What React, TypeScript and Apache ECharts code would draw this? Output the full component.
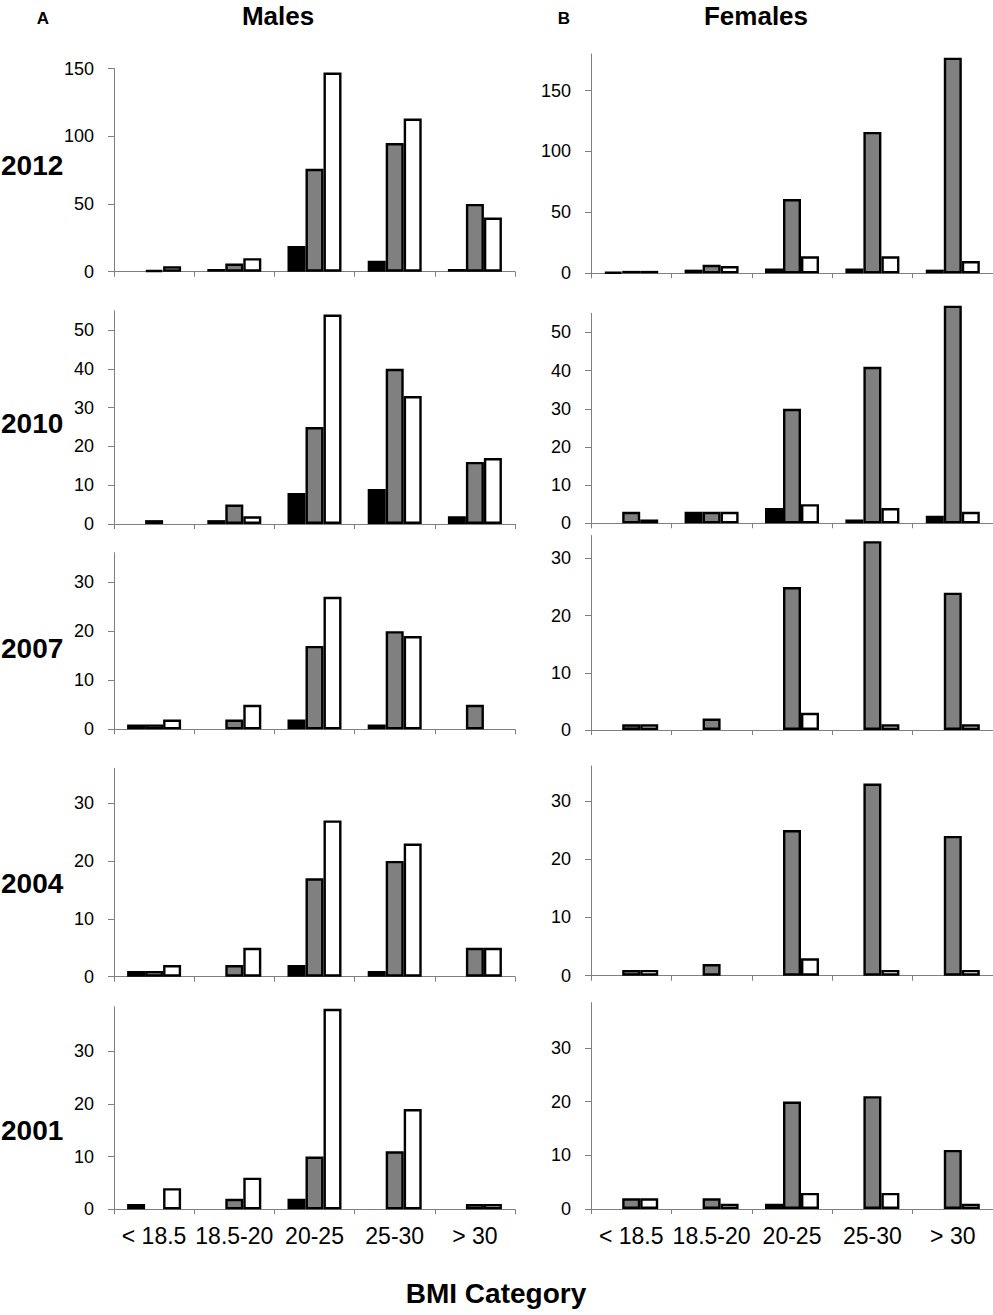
import React, { useEffect, useRef } from "react";
import * as echarts from "echarts";

const CATEGORIES = ["< 18.5", "18.5-20", "20-25", "25-30", "> 30"];
const YEARS = ["2012", "2010", "2007", "2004", "2001"];

// Males
const M2012_BLACK = [0, 2, 19, 8, 2];
const M2012_GRAY = [1, 6, 76, 95, 50];
const M2012_WHITE = [4, 10, 147, 113, 40];
const M2010_BLACK = [0, 1, 8, 9, 2];
const M2010_GRAY = [1, 5, 25, 40, 16];
const M2010_WHITE = [0, 2, 54, 33, 17];
const M2007_BLACK = [1, 0, 2, 1, 0];
const M2007_GRAY = [1, 2, 17, 20, 5];
const M2007_WHITE = [2, 5, 27, 19, 0];
const M2004_BLACK = [1, 0, 2, 1, 0];
const M2004_GRAY = [1, 2, 17, 20, 5];
const M2004_WHITE = [2, 5, 27, 23, 5];
const M2001_BLACK = [1, 0, 2, 0, 0];
const M2001_GRAY = [0, 2, 10, 11, 1];
const M2001_WHITE = [4, 6, 38, 19, 1];

// Females
const F2012_BLACK = [1, 3, 4, 4, 3];
const F2012_GRAY = [2, 7, 61, 116, 177];
const F2012_WHITE = [2, 6, 14, 14, 10];
const F2010_BLACK = [0, 3, 4, 1, 2];
const F2010_GRAY = [3, 3, 30, 41, 57];
const F2010_WHITE = [1, 3, 5, 4, 3];
const F2007_BLACK = [0, 0, 0, 0, 0];
const F2007_GRAY = [1, 2, 25, 33, 24];
const F2007_WHITE = [1, 0, 3, 1, 1];
const F2004_BLACK = [0, 0, 0, 0, 0];
const F2004_GRAY = [1, 2, 25, 33, 24];
const F2004_WHITE = [1, 0, 3, 1, 1];
const F2001_BLACK = [0, 0, 1, 0, 0];
const F2001_GRAY = [2, 2, 20, 21, 11];
const F2001_WHITE = [2, 1, 3, 3, 1];

// Tick labels
const TICKS_150 = [0, 50, 100, 150];
const TICKS_50 = [0, 10, 20, 30, 40, 50];
const TICKS_30 = [0, 10, 20, 30];

const MALE_LEFT = 114;
const MALE_WIDTH = 401;
const FEMALE_LEFT = 591;
const FEMALE_WIDTH = 402;

const PANELS = [
  { col: 0, top: 68.5, zero: 271.7, max: 150, interval: 50, ticks: TICKS_150, data: [M2012_BLACK, M2012_GRAY, M2012_WHITE], bottom: false },
  { col: 1, top: 54, zero: 273.3, max: 180, interval: 50, ticks: TICKS_150, data: [F2012_BLACK, F2012_GRAY, F2012_WHITE], bottom: false },
  { col: 0, top: 310.7, zero: 524, max: 55, interval: 10, ticks: TICKS_50, data: [M2010_BLACK, M2010_GRAY, M2010_WHITE], bottom: false },
  { col: 1, top: 313.3, zero: 523.3, max: 55, interval: 10, ticks: TICKS_50, data: [F2010_BLACK, F2010_GRAY, F2010_WHITE], bottom: false },
  { col: 0, top: 552.7, zero: 729.3, max: 36, interval: 10, ticks: TICKS_30, data: [M2007_BLACK, M2007_GRAY, M2007_WHITE], bottom: false },
  { col: 1, top: 535.5, zero: 730, max: 34, interval: 10, ticks: TICKS_30, data: [F2007_BLACK, F2007_GRAY, F2007_WHITE], bottom: false },
  { col: 0, top: 768.3, zero: 976.7, max: 36, interval: 10, ticks: TICKS_30, data: [M2004_BLACK, M2004_GRAY, M2004_WHITE], bottom: false },
  { col: 1, top: 766, zero: 975.7, max: 36, interval: 10, ticks: TICKS_30, data: [F2004_BLACK, F2004_GRAY, F2004_WHITE], bottom: false },
  { col: 0, top: 1006.7, zero: 1209.3, max: 38.4, interval: 10, ticks: TICKS_30, data: [M2001_BLACK, M2001_GRAY, M2001_WHITE], bottom: true },
  { col: 1, top: 1002.7, zero: 1209, max: 38.4, interval: 10, ticks: TICKS_30, data: [F2001_BLACK, F2001_GRAY, F2001_WHITE], bottom: true },
];

const YEAR_Y = [165, 423, 648, 883, 1130];
const FILLS = ["#000000", "#808080", "#ffffff"];
const FONT = "'Liberation Sans', Arial, sans-serif";
const AXIS_COLOR = "#7f7f7f";

export default function App() {
  const ref = useRef<HTMLDivElement>(null);
  useEffect(() => {
    if (!ref.current) return;
    const chart = echarts.init(ref.current, null, { renderer: "svg" });
    const grid: any[] = [];
    const xAxis: any[] = [];
    const yAxis: any[] = [];
    const series: any[] = [];
    PANELS.forEach((p, i) => {
      grid.push({
        left: p.col === 0 ? MALE_LEFT : FEMALE_LEFT,
        width: p.col === 0 ? MALE_WIDTH : FEMALE_WIDTH,
        top: p.top,
        height: p.zero - p.top,
        containLabel: false,
      });
      xAxis.push({
        type: "category",
        gridIndex: i,
        data: CATEGORIES,
        axisLine: { show: true, lineStyle: { color: AXIS_COLOR, width: 1 } },
        axisTick: { show: true, length: 5, lineStyle: { color: AXIS_COLOR, width: 1 } },
        axisLabel: {
          show: p.bottom,
          interval: 0,
          fontSize: 23,
          color: "#000",
          fontFamily: FONT,
          margin: 15,
        },
        splitLine: { show: false },
      });
      yAxis.push({
        type: "value",
        gridIndex: i,
        min: 0,
        max: p.max,
        interval: p.interval,
        splitLine: { show: false },
        axisLine: { show: true, lineStyle: { color: AXIS_COLOR, width: 1 } },
        axisTick: { show: true, length: 6, customValues: p.ticks, lineStyle: { color: AXIS_COLOR, width: 1 } },
        axisLabel: {
          customValues: p.ticks,
          fontSize: 18,
          color: "#000",
          fontFamily: FONT,
          margin: 20,
        },
      });
      p.data.forEach((arr, k) => {
        series.push({
          type: "bar",
          xAxisIndex: i,
          yAxisIndex: i,
          barWidth: 18,
          barGap: "0%",
          clip: false,
          itemStyle: { color: FILLS[k], borderColor: "#000", borderWidth: 2.4 },
          data: arr.map((v) => (v === 0 ? "-" : v)),
        });
      });
    });

    const graphic: any[] = [
      { type: "text", x: 43, y: 18, style: { text: "A", fontSize: 17, fontWeight: "bold", fontFamily: FONT, fill: "#000", align: "center", verticalAlign: "middle", textAlign: "center", textVerticalAlign: "middle" } },
      { type: "text", x: 278, y: 16, style: { text: "Males", fontSize: 26, fontWeight: "bold", fontFamily: FONT, fill: "#000", align: "center", verticalAlign: "middle", textAlign: "center", textVerticalAlign: "middle" } },
      { type: "text", x: 564, y: 18, style: { text: "B", fontSize: 17, fontWeight: "bold", fontFamily: FONT, fill: "#000", align: "center", verticalAlign: "middle", textAlign: "center", textVerticalAlign: "middle" } },
      { type: "text", x: 756, y: 16, style: { text: "Females", fontSize: 26, fontWeight: "bold", fontFamily: FONT, fill: "#000", align: "center", verticalAlign: "middle", textAlign: "center", textVerticalAlign: "middle" } },
      { type: "text", x: 496, y: 1293, style: { text: "BMI Category", fontSize: 28, fontWeight: "bold", fontFamily: FONT, fill: "#000", align: "center", verticalAlign: "middle", textAlign: "center", textVerticalAlign: "middle" } },
    ];
    YEARS.forEach((yr, r) => {
      graphic.push({
        type: "text",
        x: 1,
        y: YEAR_Y[r],
        style: { text: yr, fontSize: 28, fontWeight: "bold", fontFamily: FONT, fill: "#000", align: "left", verticalAlign: "middle", textAlign: "left", textVerticalAlign: "middle" },
      });
    });

    chart.setOption({
      animation: false,
      backgroundColor: "#ffffff",
      grid,
      xAxis,
      yAxis,
      series,
      graphic,
    });
    return () => chart.dispose();
  }, []);
  return (
    <div
      ref={ref}
      style={{ position: "absolute", left: 0, top: 0, width: 993, height: 1315, background: "#fff" }}
    />
  );
}
